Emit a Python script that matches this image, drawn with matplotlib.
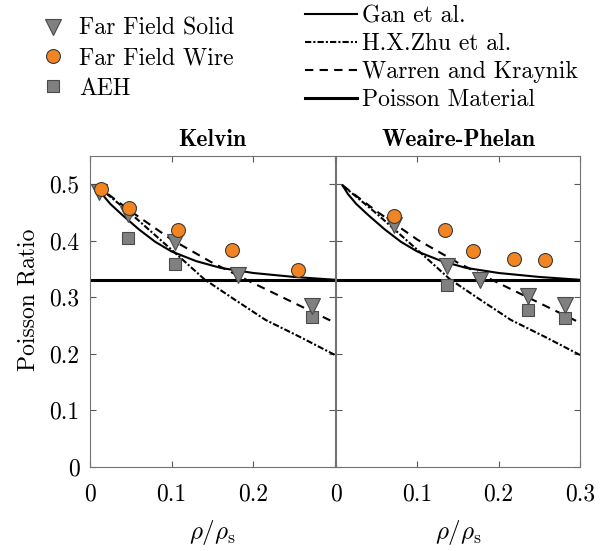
import matplotlib
matplotlib.use("Agg")
import matplotlib.pyplot as plt
from matplotlib.lines import Line2D

plt.rcParams["font.family"] = "serif"
plt.rcParams["font.serif"] = ["cmr10"]
plt.rcParams["mathtext.fontset"] = "cm"
plt.rcParams["axes.formatter.use_mathtext"] = True

# Kelvin measurements
kelvin_solid_x = [0.011, 0.047, 0.104, 0.181, 0.272]
kelvin_solid_y = [0.486, 0.448, 0.398, 0.339, 0.285]
kelvin_wire_x = [0.013, 0.048, 0.108, 0.174, 0.255]
kelvin_wire_y = [0.492, 0.458, 0.419, 0.383, 0.348]
kelvin_aeh_x = [0.047, 0.104, 0.272]
kelvin_aeh_y = [0.405, 0.359, 0.265]

# Weaire-Phelan measurements
wp_solid_x = [0.071, 0.137, 0.177, 0.236, 0.281]
wp_solid_y = [0.427, 0.355, 0.330, 0.302, 0.286]
wp_wire_x = [0.071, 0.134, 0.169, 0.219, 0.257]
wp_wire_y = [0.443, 0.419, 0.382, 0.368, 0.366]
wp_aeh_x = [0.137, 0.236, 0.281]
wp_aeh_y = [0.321, 0.277, 0.264]

# model curves (same in both panels)
gan_x = [0.008, 0.015, 0.025, 0.04, 0.06, 0.08, 0.10, 0.13, 0.16, 0.20, 0.25, 0.30]
gan_y = [0.498, 0.482, 0.465, 0.445, 0.420, 0.398, 0.381, 0.364, 0.352, 0.343, 0.336, 0.331]
zhu_x = [0.008, 0.05, 0.10, 0.14, 0.175, 0.215, 0.257, 0.30]
zhu_y = [0.498, 0.448, 0.384, 0.332, 0.298, 0.260, 0.230, 0.198]
warren_x = [0.008, 0.05, 0.10, 0.15, 0.20, 0.25, 0.30]
warren_y = [0.498, 0.452, 0.402, 0.361, 0.325, 0.290, 0.255]
poisson_value = 0.33

yticks = [0, 0.1, 0.2, 0.3, 0.4, 0.5]
ytick_labels = ["0", "0.1", "0.2", "0.3", "0.4", "0.5"]
xticks = [0, 0.1, 0.2, 0.3]
xtick_labels_left = ["0", "0.1", "0.2", ""]
xtick_labels_right = ["0", "0.1", "0.2", "0.3"]

orange = "#f28522"
gray = "#808080"
edge = "#4a4a4a"

fig = plt.figure(figsize=(6.08, 5.51), dpi=100)
ax_left = fig.add_axes([0.148, 0.1525, 0.403, 0.5645])
ax_right = fig.add_axes([0.5526, 0.1525, 0.4014, 0.5645])

panels = [
    (ax_left, "Kelvin", kelvin_solid_x, kelvin_solid_y, kelvin_wire_x, kelvin_wire_y,
     kelvin_aeh_x, kelvin_aeh_y, xtick_labels_left),
    (ax_right, "Weaire-Phelan", wp_solid_x, wp_solid_y, wp_wire_x, wp_wire_y,
     wp_aeh_x, wp_aeh_y, xtick_labels_right),
]

for ax, title, sx, sy, wx, wy, ax_x, ax_y, xlabels in panels:
    ax.axhline(poisson_value, color="black", lw=2.2, zorder=2)
    ax.plot(gan_x, gan_y, color="black", lw=1.5, zorder=2)
    ax.plot(zhu_x, zhu_y, color="black", lw=1.5, linestyle=(0, (3, 1, 1, 1)), zorder=2)
    ax.plot(warren_x, warren_y, color="black", lw=1.5, linestyle=(0, (4, 3)), zorder=2)
    ax.plot(ax_x, ax_y, "s", ms=8, mfc=gray, mec=edge, mew=0.8, zorder=3)
    ax.plot(sx, sy, "v", ms=11, mfc=gray, mec=edge, mew=0.8, zorder=4)
    ax.plot(wx, wy, "o", ms=10, mfc=orange, mec="#3a3a3a", mew=0.8, zorder=5)

    ax.set_xlim(0, 0.3)
    ax.set_ylim(0, 0.55)
    ax.set_xticks(xticks)
    ax.set_xticklabels(xlabels)
    ax.set_yticks(yticks)
    ax.tick_params(direction="in", top=True, right=True, length=4,
                   labelsize=17, color="0.35")
    ax.tick_params(axis="x", pad=12)
    ax.tick_params(axis="y", pad=7.5)
    for spine in ax.spines.values():
        spine.set_color("0.45")
        spine.set_linewidth(0.8)
    ax.set_title(title, fontfamily="cmb10", fontsize=17, pad=7.5)
    ax.set_xlabel(r"$\rho/\rho_\mathrm{s}$", fontsize=18, labelpad=9)

ax_left.set_yticklabels(ytick_labels)
ax_left.set_ylabel("Poisson Ratio", fontsize=17)
ax_left.yaxis.set_label_coords(-0.205, 0.537)
ax_right.set_yticklabels([])

marker_handles = [
    Line2D([], [], linestyle="none", marker="v", ms=11, mfc=gray, mec=edge, mew=0.8),
    Line2D([], [], linestyle="none", marker="o", ms=10, mfc=orange, mec="#3a3a3a", mew=0.8),
    Line2D([], [], linestyle="none", marker="s", ms=8, mfc=gray, mec=edge, mew=0.8),
]
fig.legend(marker_handles, ["Far Field Solid", "Far Field Wire", "AEH"],
           loc="upper left", bbox_to_anchor=(0.048, 0.985), frameon=False,
           prop={"family": "cmr10", "size": 17}, handlelength=1.2,
           handletextpad=0.5, labelspacing=0.33, borderaxespad=0)

line_handles = [
    Line2D([], [], color="black", lw=1.5),
    Line2D([], [], color="black", lw=1.5, linestyle=(0, (3, 1, 1, 1))),
    Line2D([], [], color="black", lw=1.5, linestyle=(0, (4, 3))),
    Line2D([], [], color="black", lw=2.2),
]
fig.legend(line_handles, ["Gan et al.", "H.X.Zhu et al.", "Warren and Kraynik", "Poisson Material"],
           loc="upper left", bbox_to_anchor=(0.486, 1.008), frameon=False,
           prop={"family": "cmr10", "size": 17}, handlelength=2.2,
           handletextpad=0.2, labelspacing=0.25, borderaxespad=0)

fig.savefig("out.png", dpi=100)
plt.close(fig)
